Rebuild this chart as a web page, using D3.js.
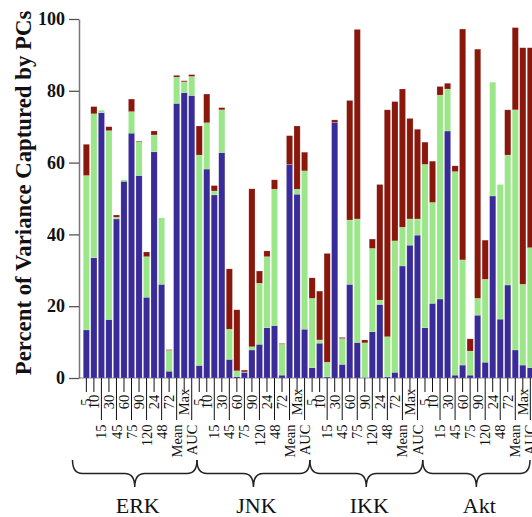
<!DOCTYPE html>
<html>
<head>
<meta charset="utf-8">
<script src="https://cdn.jsdelivr.net/npm/d3@7"></script>
<style>
  body { margin: 0; background: #fff; }
  svg { display: block; font-family: "Liberation Serif", "Times New Roman", serif; }
</style>
</head>
<body>
<div id="chart"></div>
<script>
// kinases (groups) and the 15 features per kinase
const groups = ['ERK', 'JNK', 'IKK', 'Akt']
const features = ['5', '10', '15', '30', '45', '60', '75', '90', '120', '24', '48', '72', 'Mean', 'Max', 'AUC']
const yTicks = [0, 20, 40, 60, 80, 100]

// percent of variance captured by PC1, PC2, PC3 (stacked), order: ERK, JNK, IKK, Akt
const pc1 = [
    13.4, 33.5, 73.9, 16.3, 44.3, 54.8, 68.2, 56.4, 22.5, 63.0, 26.1, 1.9, 76.5, 79.5, 78.7,
    3.5, 58.2, 51.0, 62.8, 5.2, 0.4, 1.6, 7.8, 9.4, 14.0, 14.6, 0.8, 59.5, 51.2, 13.6,
    2.9, 9.7, 0.3, 71.2, 3.8, 26.1, 9.9, 0.2, 12.9, 20.5, 0.3, 1.6, 31.2, 37.0, 39.8,
    14.0, 20.8, 22.0, 68.8, 0.8, 3.6, 0.8, 17.5, 4.4, 50.7, 16.4, 25.9, 7.8, 3.6, 2.9
]
const pc2 = [
    43.0, 40.1, 0.7, 52.6, 0.5, 0.4, 6.0, 9.4, 11.3, 4.7, 18.5, 5.8, 7.3, 3.0, 5.3,
    58.6, 12.9, 1.1, 11.9, 8.4, 1.6, 0.1, 0.9, 17.0, 19.8, 38.0, 8.6, 0.0, 1.4, 44.1,
    19.3, 0.9, 4.1, 0.0, 7.2, 17.9, 34.4, 9.6, 23.2, 1.2, 11.2, 36.6, 10.8, 7.3, 4.5,
    45.5, 28.1, 56.8, 11.7, 56.7, 29.3, 6.7, 4.7, 23.1, 31.7, 37.5, 36.2, 66.9, 22.5, 33.4
]
const pc3 = [
    8.7, 2.0, 0.0, 1.1, 0.6, 0.0, 3.5, 0.2, 1.3, 1.1, 0.0, 0.2, 0.5, 0.3, 0.5,
    8.1, 8.0, 1.5, 0.6, 16.8, 17.0, 0.5, 44.0, 3.4, 1.6, 2.6, 0.2, 8.0, 17.6, 5.2,
    5.7, 13.6, 30.3, 0.7, 0.3, 33.3, 52.8, 0.8, 2.6, 32.2, 63.2, 38.8, 38.5, 28.0, 25.0,
    6.2, 11.5, 2.4, 1.6, 1.6, 64.3, 3.4, 69.4, 10.9, 0.0, 0.0, 12.6, 22.9, 65.9, 55.7
]

const colors = { pc1: '#3a2c98', pc2: '#9ae688', pc3: '#8a170c' }

const rows = []
groups.forEach((g, gi) => {
    features.forEach((f, fi) => {
        let i = gi * features.length + fi
        rows.push({ key: g + '|' + f, group: g, feature: f, idx: fi, pc1: pc1[i], pc2: pc2[i], pc3: pc3[i] })
    })
})

drawChart(rows)

function drawChart(data) {
    const width = 532, height = 517
    const axisX = 79, baseY = 378

    const svg = d3.select('#chart')
        .append('svg')
        .attr('width', width)
        .attr('height', height)

    const xScale = d3.scaleBand()
        .domain(data.map(d => d.key))
        .range([82.6, 534.1])
        .paddingInner(0.18)
        .paddingOuter(0.09)

    const yScale = d3.scaleLinear()
        .domain([0, 100])
        .range([baseY, 19])

    // baseline
    svg.append('line')
        .attr('x1', axisX).attr('x2', width)
        .attr('y1', baseY).attr('y2', baseY)
        .attr('stroke', '#888').attr('stroke-width', 1)

    // stacked bars
    const stack = d3.stack().keys(['pc1', 'pc2', 'pc3'])(data)
    svg.append('g')
        .selectAll('g')
        .data(stack)
        .enter()
        .append('g')
        .attr('fill', d => colors[d.key])
        .selectAll('rect')
        .data(d => d)
        .enter()
        .append('rect')
        .attr('x', d => xScale(d.data.key))
        .attr('width', xScale.bandwidth())
        .attr('y', d => yScale(d[1]))
        .attr('height', d => yScale(d[0]) - yScale(d[1]))
        .attr('stroke', '#fff')
        .attr('stroke-opacity', 0.35)
        .attr('stroke-width', 0.5)

    // y axis
    const yAxisGroup = svg.append('g')
        .attr('transform', `translate(${axisX},0)`)
        .call(d3.axisLeft(yScale).tickValues(yTicks).tickSize(10).tickSizeOuter(0))
    yAxisGroup.select('.domain').attr('stroke', '#777').attr('stroke-width', 1.5)
    yAxisGroup.selectAll('.tick line').attr('stroke', '#555').attr('stroke-width', 1.3)
    yAxisGroup.selectAll('.tick text')
        .attr('x', -14)
        .attr('fill', '#111')
        .attr('font-family', '"Liberation Serif", serif')
        .attr('font-weight', 'bold')
        .attr('font-size', 18)

    svg.append('text')
        .attr('transform', 'translate(31,193) rotate(-90)')
        .attr('text-anchor', 'middle')
        .attr('font-size', 22.8)
        .attr('font-weight', 'bold')
        .attr('fill', '#111')
        .text('Percent of Variance Captured by PCs')

    // x axis, alternating short / long ticks
    const isLower = i => i > 0 && i % 2 === 0
    const xAxisGroup = svg.append('g')
        .attr('transform', `translate(0,${baseY})`)
        .call(d3.axisBottom(xScale).tickSizeOuter(0).tickFormat(k => k.split('|')[1]))
    xAxisGroup.select('.domain').remove()
    xAxisGroup.selectAll('.tick line')
        .attr('stroke', '#111')
        .attr('y2', (k, i) => isLower(i % features.length) ? 42 : 14)
    xAxisGroup.selectAll('.tick text')
        .attr('x', 0).attr('y', 0).attr('dy', '0.35em')
        .attr('fill', '#111')
        .attr('font-family', '"Liberation Serif", serif')
        .attr('font-size', 14.5)
        .attr('text-anchor', (k, i) => isLower(i % features.length) ? 'end' : 'middle')
        .attr('transform', (k, i) => isLower(i % features.length) ? 'translate(0,46.5) rotate(-90)' : 'translate(0,24) rotate(-90)')

    // braces under each kinase
    const step = xScale.step()
    const n = features.length
    const braces = groups.map((g, gi) => {
        let x1 = gi === 0 ? axisX - 6.5 : xScale.range()[0] + gi * n * step + 1.5
        let x2 = Math.min(xScale.range()[0] + (gi + 1) * n * step + 1.5, width - 2)
        return { group: g, x1: x1, x2: x2, xm: (x1 + x2) / 2 }
    })
    const topY = 460, midY = 473.5, tipY = 487
    const bracePath = b => {
        let r = 10
        return `M${b.x1},${topY} Q${b.x1},${midY} ${b.x1 + r},${midY} L${b.xm - r},${midY} ` +
            `Q${b.xm},${midY} ${b.xm},${tipY} Q${b.xm},${midY} ${b.xm + r},${midY} ` +
            `L${b.x2 - r},${midY} Q${b.x2},${midY} ${b.x2},${topY}`
    }
    svg.append('g')
        .selectAll('path')
        .data(braces)
        .enter()
        .append('path')
        .attr('d', bracePath)
        .attr('fill', 'none')
        .attr('stroke', '#222')
        .attr('stroke-width', 1.5)

    svg.append('g')
        .selectAll('text')
        .data(braces)
        .enter()
        .append('text')
        .attr('x', d => d.xm + 3)
        .attr('y', 513)
        .attr('text-anchor', 'middle')
        .attr('font-size', 22)
        .attr('fill', '#111')
        .text(d => d.group)
}
</script>
</body>
</html>
